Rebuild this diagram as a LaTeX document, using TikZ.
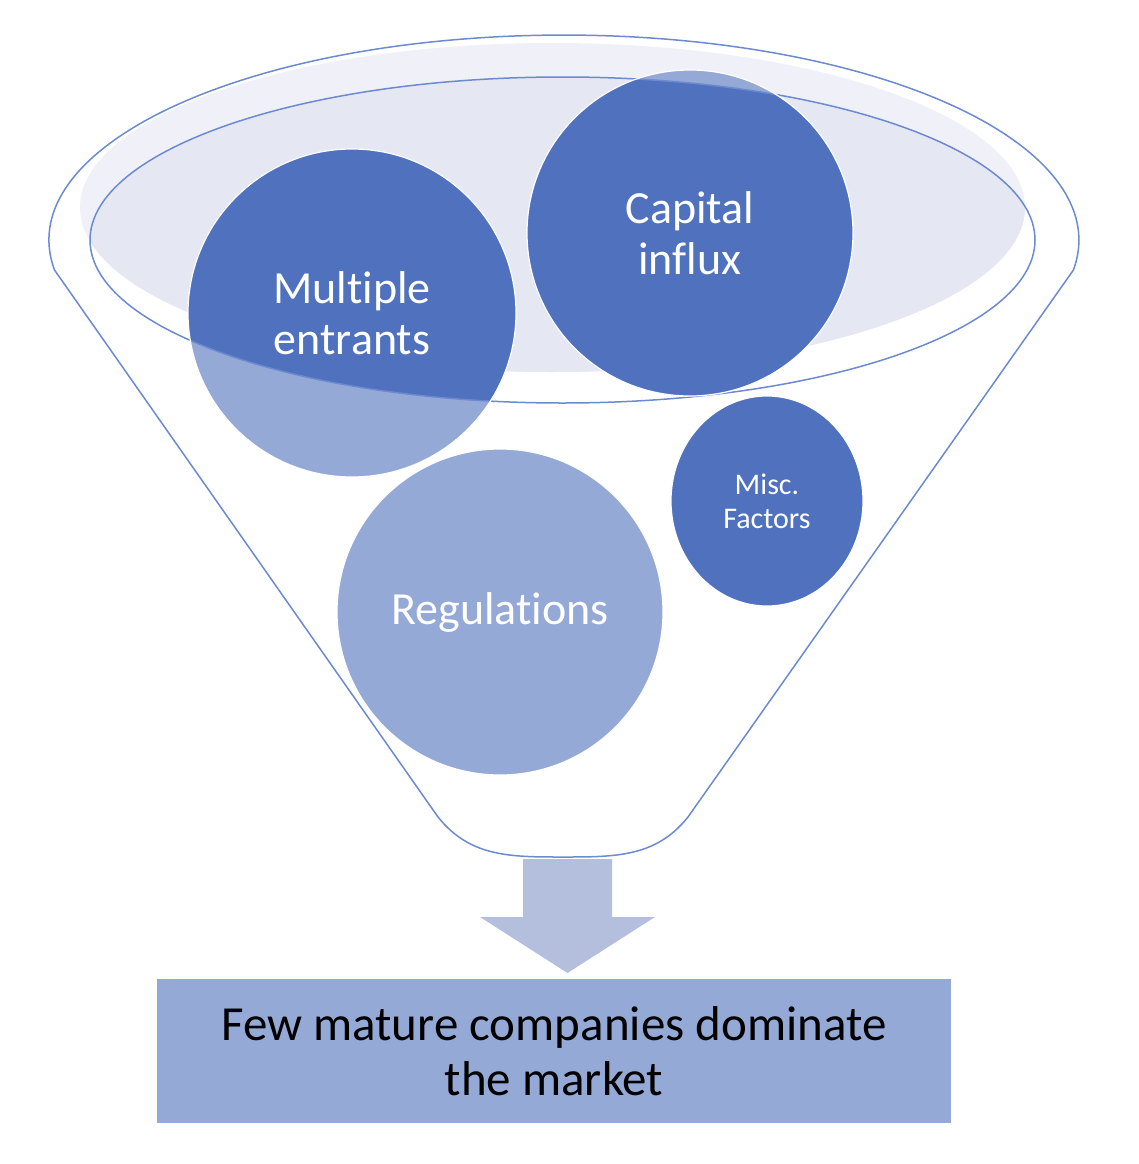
\documentclass[tikz,border=0pt]{standalone}
\usepackage{fontspec}
\setmainfont[Ligatures=NoCommon]{Carlito}
\usetikzlibrary{shapes.geometric}
\definecolor{dk}{RGB}{79,113,190}
\definecolor{lt}{RGB}{149,169,215}
\definecolor{arr}{RGB}{179,191,221}
\definecolor{fl}{RGB}{108,138,208}
\definecolor{band}{RGB}{240,241,248}
\definecolor{surf}{RGB}{229,232,242}
\begin{document}
\begin{tikzpicture}[x=1pt,y=-1pt,
  funnel/.style={draw=fl, line width=1.5pt, line join=round},
  bubble/.style={circle, draw=white, line width=1.2pt, text=white, align=center, inner sep=0pt},
  bigtext/.style={font=\fontsize{46}{51}\selectfont},
  smalltext/.style={font=\fontsize{30}{34}\selectfont},
  resbox/.style={rectangle, fill=lt, minimum width=794pt, minimum height=144pt, align=center, text=black, font=\fontsize{49}{55}\selectfont}]
\useasboundingbox (0,0) rectangle (1138,1164);
% liquid surface
\fill[band] (552.5,207.5) ellipse[x radius=472.5pt, y radius=164.5pt];
\begin{scope}
  \clip (562.5,240) ellipse[x radius=472.5pt, y radius=163pt];
  \fill[surf] (552.5,207.5) ellipse[x radius=472.5pt, y radius=164.5pt];
\end{scope}
% light circles
\fill[lt] (352,313) circle[radius=164pt];
\fill[lt] (690,233) circle[radius=163pt];
\fill[lt] (500,612) circle[radius=163pt];
% dark parts inside the rim
\begin{scope}
  \clip (562.5,240) ellipse[x radius=472.5pt, y radius=163pt];
  \fill[dk] (352,313) circle[radius=164pt];
  \fill[dk] (690,233) circle[radius=163pt];
\end{scope}
% inner rim line
\draw[funnel] (562.5,240) ellipse[x radius=472.5pt, y radius=163pt];
% funnel outline
\draw[funnel] (54.5,270) arc[start angle=188.4, end angle=-8.4, x radius=515pt, y radius=205pt]
  -- (688,817) .. controls (656,857) and (616,857) .. (563,857)
  .. controls (510,857) and (470,857) .. (438,817) -- cycle;
% bubbles with labels
\node[bubble, bigtext, minimum size=328pt] (me) at (352,313) {Multiple\\entrants};
\node[bubble, bigtext, minimum size=326pt] (ci) at (690,233) {Capital\\influx};
\node[bubble, bigtext, minimum size=326pt] (rg) at (500,612) {Regulations};
\node[ellipse, fill=dk, draw=white, line width=1.2pt, text=white, align=center, inner sep=0pt,
  smalltext, minimum width=192pt, minimum height=210pt] (mf) at (767,501) {Misc.\\Factors};
% result
\node[resbox] (res) at (554,1051) {Few mature companies dominate\\the market};
% block arrow
\coordinate (atop) at (567.5,859);
\coordinate (atip) at (567.5,973);
\fill[arr] ([xshift=-44.5pt]atop) -- ([xshift=44.5pt]atop) -- ([xshift=44.5pt,yshift=-58pt]atop)
  -- ([xshift=87.5pt,yshift=-58pt]atop) -- (atip) -- ([xshift=-87.5pt,yshift=-58pt]atop)
  -- ([xshift=-44.5pt,yshift=-58pt]atop) -- cycle;
\end{tikzpicture}
\end{document}
